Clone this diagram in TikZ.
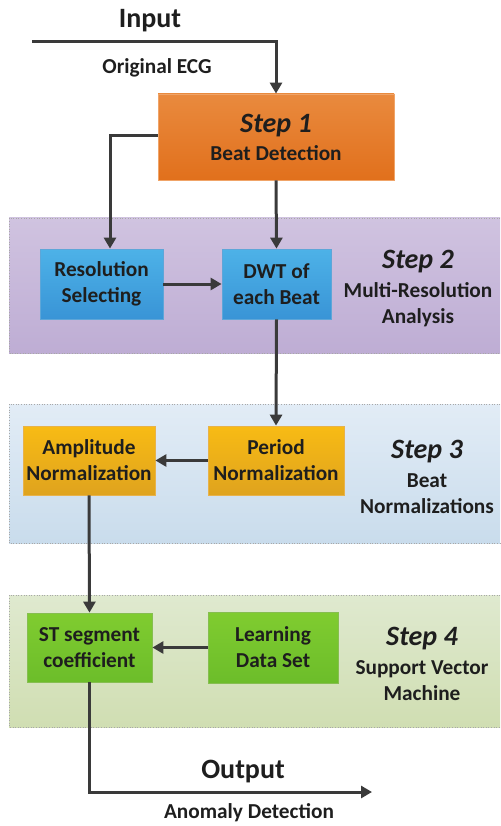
\documentclass[tikz,border=0pt]{standalone}
\usepackage{fontspec}
\setmainfont{Carlito}
\usetikzlibrary{arrows.meta}

\definecolor{inkc}{HTML}{1E1E1E}
\definecolor{linec}{HTML}{3A3A3A}
\definecolor{orTop}{HTML}{E98A3E}
\definecolor{orBot}{HTML}{E1701C}
\definecolor{orEdge}{HTML}{F0A468}
\definecolor{blTop}{HTML}{4DB2E8}
\definecolor{blBot}{HTML}{3994D6}
\definecolor{blEdge}{HTML}{5EA6D8}
\definecolor{yeTop}{HTML}{F8BB14}
\definecolor{yeBot}{HTML}{DFA31E}
\definecolor{yeEdge}{HTML}{E8B24A}
\definecolor{grTop}{HTML}{80CC30}
\definecolor{grBot}{HTML}{6CBD2A}
\definecolor{grEdge}{HTML}{86BE50}
\definecolor{puTop}{HTML}{D0C3E0}
\definecolor{puBot}{HTML}{BEADD4}
\definecolor{skTop}{HTML}{E2ECF6}
\definecolor{skBot}{HTML}{C9DCEC}
\definecolor{leTop}{HTML}{DFE9CF}
\definecolor{leBot}{HTML}{D0DEB2}
\definecolor{frame}{HTML}{A8A8A8}

\newcommand{\txtf}{\fontsize{21.3}{26}\selectfont\bfseries}
\newcommand{\bigf}{\fontsize{28}{30}\selectfont\bfseries}
\newcommand{\stepf}{\fontsize{28}{30}\selectfont\bfseries\itshape}

\begin{document}
\begin{tikzpicture}[x=1pt,y=-1pt,
  every node/.style={text=inkc},
  box/.style={draw, line width=0.8pt, inner sep=0pt, align=center, font=\txtf},
  orangebox/.style={box, top color=orTop, bottom color=orBot, draw=orEdge},
  bluebox/.style={box, top color=blTop, bottom color=blBot, draw=blEdge},
  yellowbox/.style={box, top color=yeTop, bottom color=yeBot, draw=yeEdge},
  greenbox/.style={box, top color=grTop, bottom color=grBot, draw=grEdge},
  flow/.style={draw=linec, line width=3pt,
    -{Triangle[length=11pt,width=12pt]}},
  steplabel/.style={align=center, font=\txtf},
  band/.style={draw=frame, line width=0.6pt, dotted}]

\useasboundingbox (0,0) rectangle (500,826);

% stage bands
\shade[top color=puTop, bottom color=puBot] (9,218) rectangle (500,353);
\draw[band] (500,218) -- (9,218) -- (9,353) -- (500,353);
\shade[top color=skTop, bottom color=skBot] (9,404) rectangle (500,543);
\draw[band] (500,404) -- (9,404) -- (9,543) -- (500,543);
\shade[top color=leTop, bottom color=leBot] (9,595) rectangle (500,727);
\draw[band] (500,595) -- (9,595) -- (9,727) -- (500,727);

% input
\node[font=\bigf] (inlbl) at (150,21) {Input};
\node[font=\txtf] (ecg) at (157,68) {Original ECG};
\coordinate (instart) at (32,42);

% step 1
\node[orangebox, minimum width=236pt, minimum height=86pt] (s1) at (276,137)
  {{\stepf Step 1}\\[2pt]Beat Detection};

% step 2
\node[bluebox, minimum width=123pt, minimum height=70pt] (res) at (101.5,284)
  {Resolution\\Selecting};
\node[bluebox, minimum width=109pt, minimum height=70pt] (dwt) at (276.5,284)
  {DWT of\\each Beat};
\node[steplabel] (s2) at (418,288)
  {{\stepf Step 2}\\[3pt]Multi-Resolution\\Analysis};

% step 3
\node[yellowbox, minimum width=132pt, minimum height=69pt] (amp) at (89,460.5)
  {Amplitude\\Normalization};
\node[yellowbox, minimum width=136pt, minimum height=69pt] (per) at (276,460.5)
  {Period\\Normalization};
\node[steplabel] (s3) at (427,477)
  {{\stepf Step 3}\\[3pt]Beat\\Normalizations};

% step 4
\node[greenbox, minimum width=125pt, minimum height=69pt] (st) at (89.5,647.5)
  {ST segment\\coefficient};
\node[greenbox, minimum width=130pt, minimum height=71pt] (learn) at (273,647.5)
  {Learning\\Data Set};
\node[steplabel] (s4) at (422,664)
  {{\stepf Step 4}\\[3pt]Support Vector\\Machine};

% output
\node[font=\bigf] (outlbl) at (243,772) {Output};
\node[font=\txtf] (anom) at (249,813) {Anomaly Detection};
\coordinate (outend) at (372,792);

% connectors
\draw[flow] (instart) -| (s1.north);
\draw[flow] (s1.west |- 0,136) -| ([xshift=8.5pt]res.north);
\draw[flow] (s1.south) -- (dwt.north);
\draw[flow] (res.east) -- (dwt.west);
\draw[flow] (dwt.south) -- (per.north);
\draw[flow] (per.west) -- (amp.east);
\draw[flow] (amp.south) -- (st.north);
\draw[flow] (learn.west) -- (st.east);
\draw[flow] (st.south) |- (outend);
\end{tikzpicture}
\end{document}
